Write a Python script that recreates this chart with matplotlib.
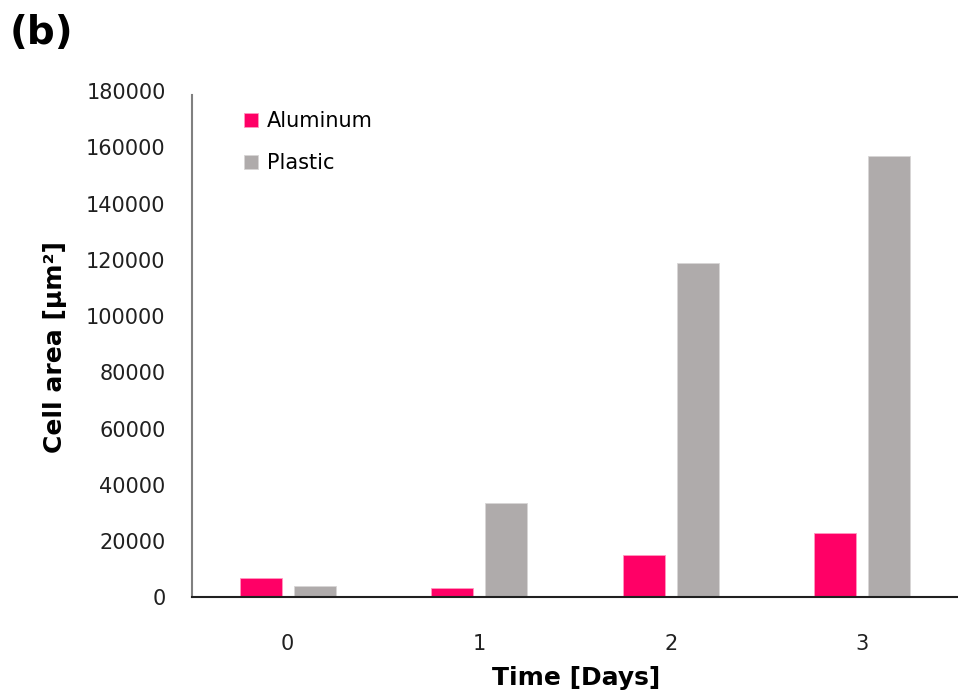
import matplotlib
matplotlib.use('Agg')
import matplotlib.pyplot as plt
import numpy as np

days = ['0', '1', '2', '3']
aluminum = [7000, 3500, 15200, 22900]
plastic = [3900, 33600, 118700, 156800]

pink = '#FF0066'
gray = '#AFABAB'

plt.rcParams['font.family'] = ['DejaVu Sans']

fig = plt.figure(figsize=(9.58, 6.97), dpi=100)
ax = fig.add_axes([0.2004, 0.1428, 0.7996, 0.7266])

x = np.arange(len(days))
w = 0.22
off = 0.141
ax.bar(x - off, aluminum, w, color=pink, edgecolor='#FF99C0', linewidth=0.6, label='Aluminum')
ax.bar(x + off, plastic, w, color=gray, edgecolor='#D8D6D6', linewidth=0.6, label='Plastic')

ax.set_xlim(-0.5, 3.5)
ax.set_ylim(0, 180000)
ax.set_yticks(np.arange(0, 180001, 20000))
ax.set_xticks(x)
ax.set_xticklabels(days)
ax.tick_params(axis='both', length=0, labelsize=15, colors='#202020')
ax.tick_params(axis='y', pad=19)
ax.tick_params(axis='x', pad=26)

for s in ['top', 'right']:
    ax.spines[s].set_visible(False)
ax.spines['left'].set_color('#808080')
ax.spines['left'].set_linewidth(1.5)
ax.spines['left'].set_bounds(0, 178500)
ax.spines['bottom'].set_color('#202020')
ax.spines['bottom'].set_linewidth(1.5)

ax.set_ylabel('Cell area [μm²]', fontsize=18, fontweight='bold', va='center')
ax.yaxis.set_label_coords(-0.179, 0.495)
ax.set_xlabel('Time [Days]', fontsize=18, fontweight='bold', va='center')
ax.xaxis.set_label_coords(0.501, -0.159)

ax.legend(loc='upper left', bbox_to_anchor=(0.043, 0.997), frameon=False, fontsize=15,
          handlelength=0.7, handleheight=0.7, handletextpad=0.4, labelspacing=1.05)

fig.text(0.01, 0.953, '(b)', fontsize=28, fontweight='bold', va='center', ha='left')

plt.savefig('out.png', dpi=100)
